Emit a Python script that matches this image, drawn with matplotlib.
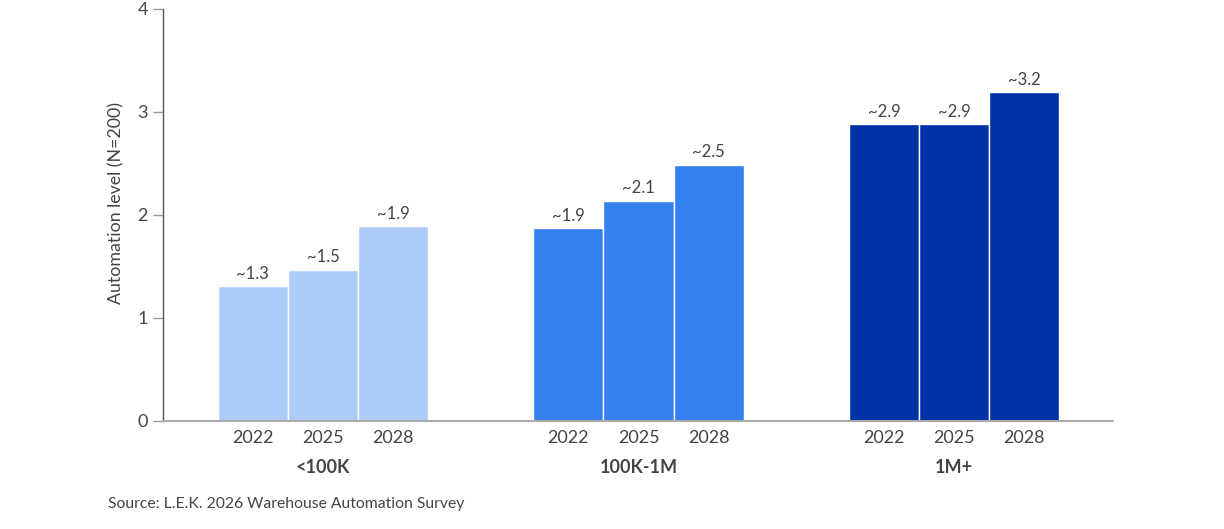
import matplotlib
matplotlib.use("Agg")
import matplotlib.pyplot as plt

groups = ["<100K", "100K-1M", "1M+"]
years = ["2022", "2025", "2028"]
values = [[1.31, 1.47, 1.89], [1.87, 2.14, 2.49], [2.88, 2.88, 3.19]]
labels = [["~1.3", "~1.5", "~1.9"], ["~1.9", "~2.1", "~2.5"], ["~2.9", "~2.9", "~3.2"]]
colors = ["#ADCBF7", "#3380EE", "#0032A8"]

plt.rcParams['font.family'] = ['Lato', 'DejaVu Sans']
txt = "#444444"

fig = plt.figure(figsize=(12.24, 5.29), dpi=100)
ax = fig.add_axes([0.1332, 0.2042, 0.909 - 0.1332, 0.983 - 0.2042])

centers = [1, 5.5, 10]
for gi, g in enumerate(groups):
    xs = [centers[gi] - 1 + j for j in range(3)]
    ax.bar(xs, values[gi], width=1.0, color=colors[gi], edgecolor="white", linewidth=1)
    for x, v, l in zip(xs, values[gi], labels[gi]):
        ax.text(x, v + 0.04, l, ha="center", va="bottom", fontsize=12, color=txt)
    for x, y in zip(xs, years):
        ax.text(x, -0.09, y, ha="center", va="top", fontsize=13, color=txt)
    ax.text(centers[gi], -0.37, g, ha="center", va="top", fontsize=13,
            fontweight="bold", color=txt)

ax.set_xlim(-1.28, 12.26)
ax.set_ylim(0, 4)
ax.set_yticks([0, 1, 2, 3, 4])
ax.set_xticks([])
ax.tick_params(axis="y", colors="#999999", labelcolor=txt, labelsize=13, length=7, width=1, pad=4)
for s in ["top", "right"]:
    ax.spines[s].set_visible(False)
ax.spines["left"].set_color("#555555")
ax.spines["left"].set_linewidth(1)
ax.spines["bottom"].set_color("#AAAAAA")
ax.spines["bottom"].set_linewidth(1.5)
ax.set_ylabel("Automation level (N=200)", fontsize=12.8, color=txt)
ax.yaxis.set_label_coords(-0.041, 0.53)

fig.text(108 / 1224, 1 - 504 / 529, "Source: L.E.K. 2026 Warehouse Automation Survey",
         ha="left", va="center", fontsize=11.3, color=txt)

fig.savefig("out.png", dpi=100)
